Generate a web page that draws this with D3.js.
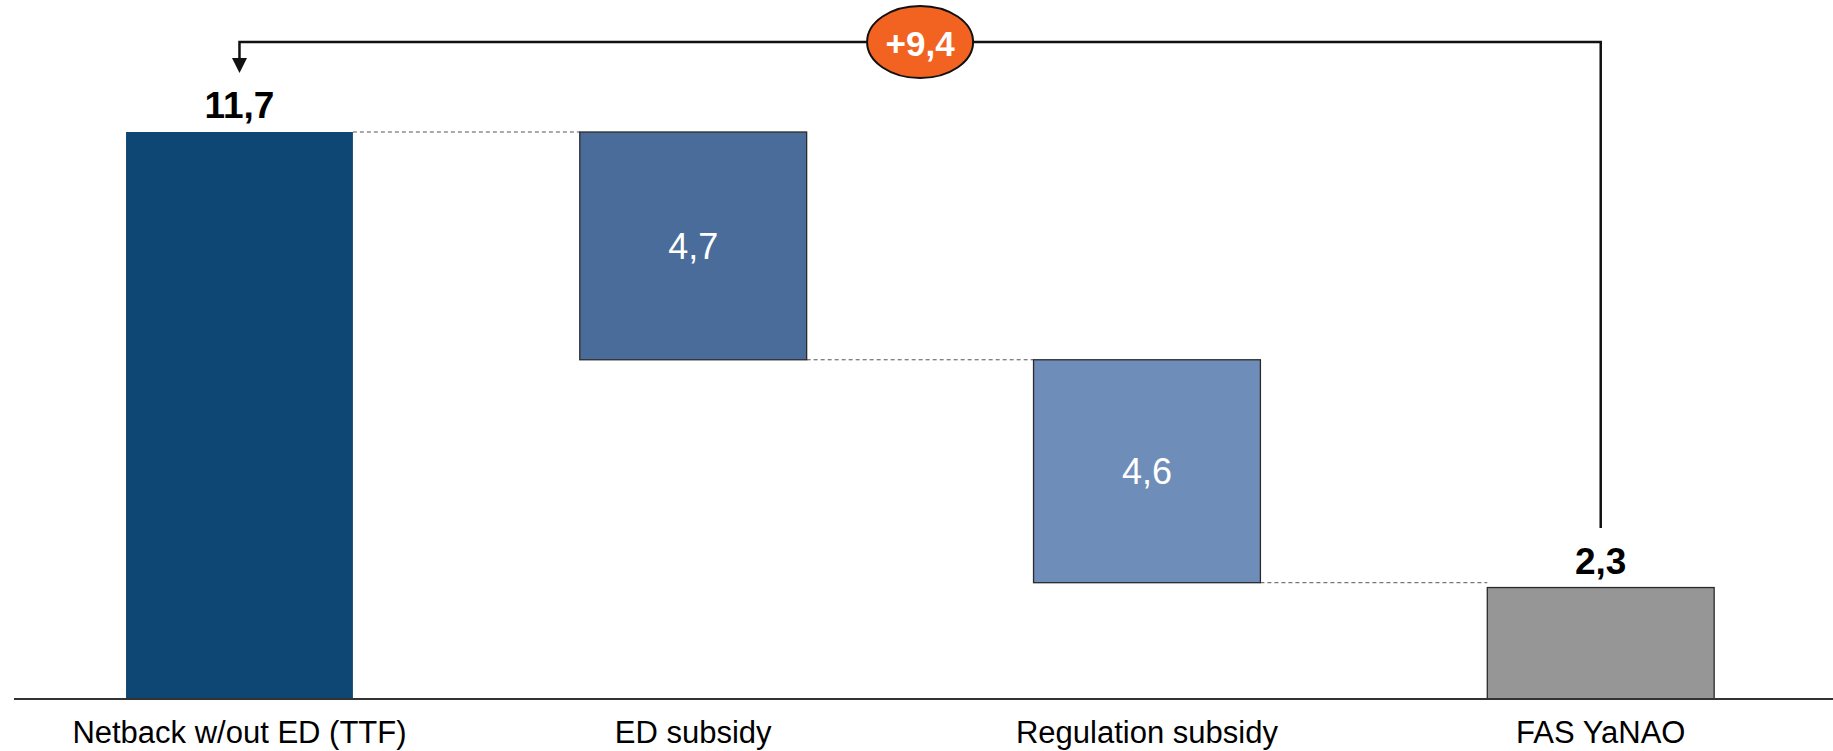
<!DOCTYPE html>
<html>
<head>
<meta charset="utf-8">
<script src="https://cdn.jsdelivr.net/npm/d3@7"></script>
<style>
  html, body { margin: 0; padding: 0; background: #fff; }
  svg { display: block; }
  text { font-family: "Liberation Sans", Arial, sans-serif; }
</style>
</head>
<body>
<svg id="chart" width="1833" height="751"></svg>
<script>
// Waterfall: netback without export duty down to the FAS price
const categories = ["Netback w/out ED (TTF)", "ED subsidy", "Regulation subsidy", "FAS YaNAO"];
const values = [11.7, -4.7, -4.6, 2.3];
const kinds = ["total", "delta", "delta", "total"];
const fills = ["#0E4773", "#4A6C9A", "#6E8DB8", "#969696"];
const gapLabel = "+9,4";

const W = 1833, H = 751;
const svg = d3.select("#chart");

const x = d3.scaleBand()
  .domain(categories)
  .range([12.6, 1827.6])
  .paddingInner(0.5)
  .paddingOuter(0.25);

const y = d3.scaleLinear().domain([0, 11.7]).range([699, 132]);

const ru = d3.formatLocale({ decimal: ",", thousands: " ", grouping: [3], currency: ["", ""] });
const fmt = ru.format(".1f");

// running level for floating bars
let level = 0;
const bars = categories.map((c, i) => {
  let lo, hi, end;
  if (kinds[i] === "total") {
    lo = 0; hi = values[i]; end = values[i];
  } else {
    const start = level;
    end = start + values[i];
    lo = Math.min(start, end); hi = Math.max(start, end);
  }
  level = end;
  return { c, i, lo, hi, end, v: values[i], kind: kinds[i] };
});

// dashed connectors between consecutive bars
const conn = svg.append("g");
bars.slice(0, -1).forEach((b, i) => {
  const n = bars[i + 1];
  conn.append("line")
    .attr("x1", x(b.c) + x.bandwidth())
    .attr("x2", x(n.c))
    .attr("y1", y(b.end))
    .attr("y2", y(b.end))
    .attr("stroke", "#555")
    .attr("stroke-width", 1)
    .attr("stroke-dasharray", "4,3");
});

// bars
svg.append("g").selectAll("rect")
  .data(bars)
  .join("rect")
  .attr("x", d => x(d.c))
  .attr("width", x.bandwidth())
  .attr("y", d => y(d.hi))
  .attr("height", d => y(d.lo) - y(d.hi))
  .attr("fill", (d, i) => fills[i])
  .attr("stroke", (d, i) => i === 0 ? "none" : "#2a2a2a")
  .attr("stroke-width", 1.3);

// value labels: totals above, deltas inside
svg.append("g").selectAll("text")
  .data(bars)
  .join("text")
  .attr("x", d => x(d.c) + x.bandwidth() / 2)
  .attr("y", d => d.kind === "total" ? y(d.hi) - 14 : (y(d.lo) + y(d.hi)) / 2)
  .attr("dy", d => d.kind === "total" ? 0 : "0.36em")
  .attr("text-anchor", "middle")
  .attr("font-size", d => d.kind === "total" ? 37 : 36)
  .attr("font-weight", d => d.kind === "total" ? "bold" : "normal")
  .attr("fill", d => d.kind === "total" ? "#000" : "#fff")
  .text(d => fmt(Math.abs(d.v)));

// baseline
svg.append("line")
  .attr("x1", 14).attr("x2", W)
  .attr("y1", y(0)).attr("y2", y(0))
  .attr("stroke", "#333")
  .attr("stroke-width", 2);

// category labels
svg.append("g").selectAll("text")
  .data(categories)
  .join("text")
  .attr("x", d => x(d) + x.bandwidth() / 2)
  .attr("y", 743)
  .attr("text-anchor", "middle")
  .attr("font-size", 31)
  .attr("fill", "#000")
  .text(d => d);

// bracket from the final bar back to the first bar
const xa = x(categories[0]) + x.bandwidth() / 2;
const xb = x(categories[3]) + x.bandwidth() / 2;
const bracketY = 42;
svg.append("path")
  .attr("d", `M${xb},528 V${bracketY} H${xa} V60`)
  .attr("fill", "none")
  .attr("stroke", "#111")
  .attr("stroke-width", 2.5);
svg.append("path")
  .attr("d", `M${xa - 7.5},58 L${xa + 7.5},58 L${xa},73 Z`)
  .attr("fill", "#111");

const cx = (xa + xb) / 2;
svg.append("ellipse")
  .attr("cx", cx).attr("cy", bracketY)
  .attr("rx", 53).attr("ry", 36)
  .attr("fill", "#F26322")
  .attr("stroke", "#111")
  .attr("stroke-width", 2);
svg.append("text")
  .attr("x", cx).attr("y", 56)
  .attr("text-anchor", "middle")
  .attr("font-size", 35)
  .attr("font-weight", "bold")
  .attr("fill", "#fff")
  .text(gapLabel);
</script>
</body>
</html>
